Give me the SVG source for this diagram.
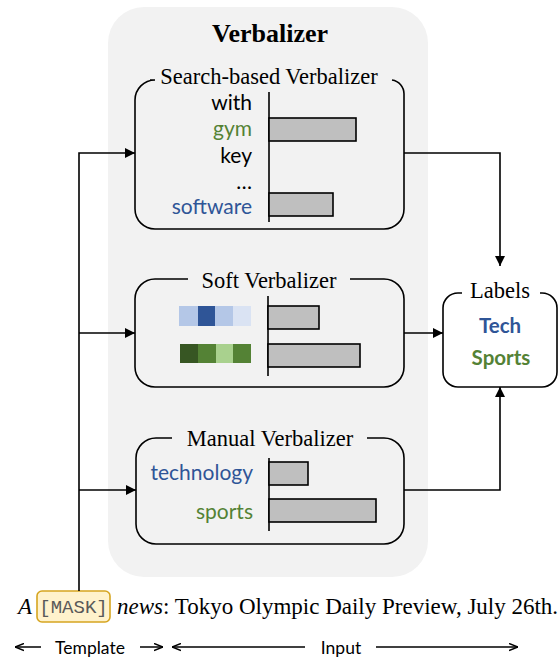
<svg xmlns="http://www.w3.org/2000/svg" width="560" height="659" viewBox="0 0 560 659">
<defs>
<marker id="ah" viewBox="0 0 10 10" refX="10" refY="5" markerWidth="10" markerHeight="10" markerUnits="userSpaceOnUse" orient="auto">
<path d="M0,0 L10,5 L0,10 z" fill="#000"/>
</marker>
<marker id="sa" viewBox="0 0 10 10" refX="10" refY="5" markerWidth="9" markerHeight="9" markerUnits="userSpaceOnUse" orient="auto-start-reverse">
<path d="M0,1 L10,5 L0,9" fill="none" stroke="#000" stroke-width="1.5"/>
</marker>
<style>
.box{fill:none;stroke:#000;stroke-width:1.6}
.ttl{font-family:"Liberation Serif",serif;font-size:22.5px;text-anchor:middle}
.w{font-family:Lato,"Open Sans",sans-serif;font-size:21px;text-anchor:end}
.bar{fill:#bfbfbf;stroke:#000;stroke-width:1.6}
.ax{stroke:#000;stroke-width:1.6}
.con{fill:none;stroke:#000;stroke-width:1.6}
.blue{fill:#2f5597}
.green{fill:#548235}
</style>
</defs>
<rect x="108" y="7" width="320" height="570" rx="36" fill="#f2f2f2"/>
<text x="270" y="42" font-family="Liberation Serif,serif" font-size="26" font-weight="bold" text-anchor="middle">Verbalizer</text>

<g id="search">
<path class="box" d="M150,80 H155 M392,80 A14,14 0 0 1 404,94 V209 A20,20 0 0 1 384,229 H155 A20,20 0 0 1 135,209 V100 A20,20 0 0 1 155,80"/>
<text class="ttl" x="269" y="84">Search-based Verbalizer</text>
<text class="w" x="252" y="110">with</text>
<text class="w green" x="252" y="136">gym</text>
<text class="w" x="252" y="163">key</text>
<text class="w" x="252" y="189">…</text>
<text class="w blue" x="252" y="214">software</text>
<line class="ax" x1="269" y1="92" x2="269" y2="222"/>
<rect class="bar" x="269" y="118" width="87" height="23"/>
<rect class="bar" x="269" y="193" width="64" height="23"/>
</g>

<g id="soft">
<path class="box" d="M188,279 H155 A20,20 0 0 0 135,299 V367 A20,20 0 0 0 155,387 H384 A20,20 0 0 0 404,367 V299 A20,20 0 0 0 384,279 H350"/>
<text class="ttl" x="269" y="288">Soft Verbalizer</text>
<rect x="179" y="306" width="19" height="20" fill="#b4c7e7"/>
<rect x="198" y="306" width="17" height="20" fill="#2f5597"/>
<rect x="215" y="306" width="18" height="20" fill="#b4c7e7"/>
<rect x="233" y="306" width="18" height="20" fill="#dae3f3"/>
<rect x="180" y="344" width="18" height="19" fill="#375623"/>
<rect x="198" y="344" width="18" height="19" fill="#548235"/>
<rect x="216" y="344" width="17" height="19" fill="#a9d18e"/>
<rect x="233" y="344" width="18" height="19" fill="#548235"/>
<line class="ax" x1="268" y1="296" x2="268" y2="376"/>
<rect class="bar" x="268" y="306" width="51" height="23"/>
<rect class="bar" x="268" y="344" width="92" height="23"/>
</g>

<g id="manual">
<path class="box" d="M172,438 H156 A20,20 0 0 0 136,458 V524 A20,20 0 0 0 156,544 H384 A20,20 0 0 0 404,524 V458 A20,20 0 0 0 384,438 H367"/>
<text class="ttl" x="270" y="446">Manual Verbalizer</text>
<text class="w blue" x="253" y="480">technology</text>
<text class="w green" x="253" y="519">sports</text>
<line class="ax" x1="269" y1="458" x2="269" y2="531"/>
<rect class="bar" x="269" y="462" width="39" height="23"/>
<rect class="bar" x="269" y="499" width="107" height="23"/>
</g>

<g id="labels">
<path class="box" d="M462,293 H458 A15,15 0 0 0 443,308 V372 A15,15 0 0 0 458,387 H542 A15,15 0 0 0 557,372 V308 A15,15 0 0 0 542,293 H540"/>
<text class="ttl" x="500" y="298">Labels</text>
<text x="500" y="333" font-family="Lato,'Open Sans',sans-serif" font-size="20.5" font-weight="bold" text-anchor="middle" class="blue">Tech</text>
<text x="501" y="365" font-family="Lato,'Open Sans',sans-serif" font-size="20.5" font-weight="bold" text-anchor="middle" class="green">Sports</text>
</g>

<g id="template">
<rect x="37" y="591" width="73" height="31" rx="5" fill="#fff2cc" stroke="#d6a520" stroke-width="1.6"/>
<text x="18" y="614" font-family="Liberation Serif,serif" font-size="23" font-style="italic">A</text>
<text x="73.5" y="613" font-family="Liberation Mono,monospace" font-size="19" fill="#595959" text-anchor="middle">[MASK]</text>
<text x="117" y="614" font-family="Liberation Serif,serif" font-size="23"><tspan font-style="italic">news</tspan>: Tokyo Olympic Daily Preview, July 26th.</text>
</g>

<g id="connectors">
<path class="con" d="M79,591 V153 H135" marker-end="url(#ah)"/>
<path class="con" d="M79,333 H135" marker-end="url(#ah)"/>
<path class="con" d="M79,490 H136" marker-end="url(#ah)"/>
<path class="con" d="M404,153 H500 V266" marker-end="url(#ah)"/>
<path class="con" d="M404,333 H443" marker-end="url(#ah)"/>
<path class="con" d="M404,490 H500 V387" marker-end="url(#ah)"/>
</g>

<g id="spans">
<line x1="41" y1="647" x2="15" y2="647" stroke="#000" stroke-width="1.5" marker-end="url(#sa)"/>
<line x1="140" y1="647" x2="163" y2="647" stroke="#000" stroke-width="1.5" marker-end="url(#sa)"/>
<line x1="305" y1="647" x2="172" y2="647" stroke="#000" stroke-width="1.5" marker-end="url(#sa)"/>
<line x1="376" y1="647" x2="518" y2="647" stroke="#000" stroke-width="1.5" marker-end="url(#sa)"/>
<text x="90" y="654" font-family="Lato,'Open Sans',sans-serif" font-size="17.5" text-anchor="middle">Template</text>
<text x="341" y="654" font-family="Lato,'Open Sans',sans-serif" font-size="17.5" text-anchor="middle">Input</text>
</g>
</svg>
